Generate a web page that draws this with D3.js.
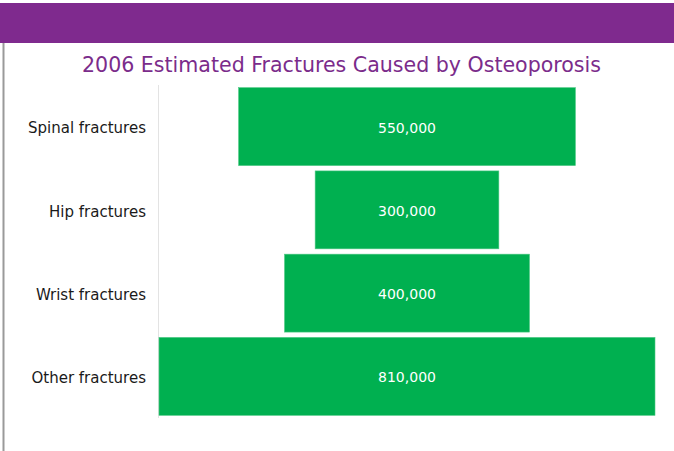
<!DOCTYPE html>
<html>
<head>
<meta charset="utf-8">
<script src="https://cdn.jsdelivr.net/npm/d3@7"></script>
<style>
  body { margin: 0; background: #fff; }
  svg { display: block; }
</style>
</head>
<body>
<div id="chart"></div>
<script>
const categories = ['Spinal fractures', 'Hip fractures', 'Wrist fractures', 'Other fractures'];
const values = [550000, 300000, 400000, 810000];
const title = '2006 Estimated Fractures Caused by Osteoporosis';

const width = 674;
const height = 451;
const fontFamily = '"DejaVu Sans", "Noto Sans", sans-serif';

const svg = d3
  .select('#chart')
  .append('svg')
  .attr('width', width)
  .attr('height', height);

// purple banner + left rule
svg
  .append('rect')
  .attr('x', 0)
  .attr('y', 3)
  .attr('width', width)
  .attr('height', 40)
  .attr('fill', '#7F2A8E');

svg
  .append('rect')
  .attr('x', 2.5)
  .attr('y', 43)
  .attr('width', 2)
  .attr('height', height - 43)
  .attr('fill', '#9a9a9a');

svg
  .append('text')
  .text(title)
  .attr('x', 341.5)
  .attr('y', 72)
  .attr('text-anchor', 'middle')
  .attr('textLength', 519)
  .attr('lengthAdjust', 'spacingAndGlyphs')
  .attr('fill', '#7B2C8B')
  .style('font-family', fontFamily)
  .style('font-size', '22px');

const axisX = 158.5;
const centerX = 407;

const y = d3
  .scaleBand()
  .domain(categories)
  .range([85, 418])
  .paddingInner(0.064)
  .paddingOuter(0.032);

const x = d3
  .scaleLinear()
  .domain([0, d3.max(values)])
  .range([0, 496]);

svg
  .append('line')
  .attr('x1', axisX)
  .attr('x2', axisX)
  .attr('y1', 85)
  .attr('y2', 418)
  .attr('stroke', '#e3e3e3')
  .attr('stroke-width', 1);

const data = categories.map((c, i) => ({ name: c, value: values[i] }));

svg
  .selectAll('.bar')
  .data(data)
  .enter()
  .append('rect')
  .attr('class', 'bar')
  .attr('x', (d) => centerX - x(d.value) / 2)
  .attr('y', (d) => y(d.name))
  .attr('width', (d) => x(d.value))
  .attr('height', y.bandwidth())
  .attr('fill', '#00B050')
  .attr('stroke', '#4cc883')
  .attr('stroke-width', 0.6);

svg
  .selectAll('.value')
  .data(data)
  .enter()
  .append('text')
  .attr('class', 'value')
  .text((d) => d3.format(',')(d.value))
  .attr('x', centerX)
  .attr('y', (d) => y(d.name) + y.bandwidth() / 2)
  .attr('dy', '0.42em')
  .attr('text-anchor', 'middle')
  .attr('fill', '#ffffff')
  .style('font-family', fontFamily)
  .style('font-size', '14px');

svg
  .selectAll('.cat')
  .data(data)
  .enter()
  .append('text')
  .attr('class', 'cat')
  .text((d) => d.name)
  .attr('x', 146)
  .attr('y', (d) => y(d.name) + y.bandwidth() / 2)
  .attr('dy', '0.45em')
  .attr('text-anchor', 'end')
  .attr('fill', '#1a1a1a')
  .style('font-family', fontFamily)
  .style('font-size', '15px');
</script>
</body>
</html>
